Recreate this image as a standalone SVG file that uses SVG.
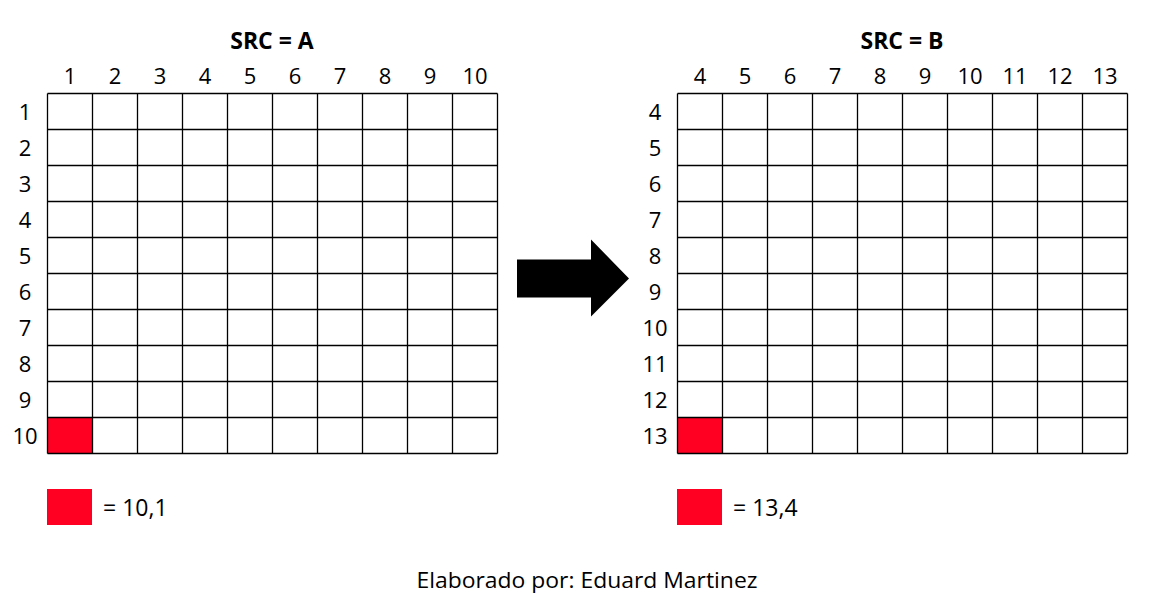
<svg xmlns="http://www.w3.org/2000/svg" width="1155" height="611" viewBox="0 0 1155 611">
<style>
text{font-family:"Open Sans","Liberation Sans",sans-serif;fill:#000}
.h{font-size:22px;text-anchor:middle}
.t{font-size:23px;font-weight:bold;text-anchor:middle}
.l{font-size:23px}
.f{font-size:21px}
.g line{stroke:#000;stroke-width:1.3}
.red{fill:#ff0022}
</style>
<rect width="1155" height="611" fill="#fff"/>
<g id="gridA">
<rect class="red" x="47.5" y="417.5" width="45" height="36"/>
<g class="g">
<line x1="47.5" y1="93.5" x2="497.5" y2="93.5"/><line x1="47.5" y1="129.5" x2="497.5" y2="129.5"/><line x1="47.5" y1="165.5" x2="497.5" y2="165.5"/><line x1="47.5" y1="201.5" x2="497.5" y2="201.5"/><line x1="47.5" y1="237.5" x2="497.5" y2="237.5"/><line x1="47.5" y1="273.5" x2="497.5" y2="273.5"/><line x1="47.5" y1="309.5" x2="497.5" y2="309.5"/><line x1="47.5" y1="345.5" x2="497.5" y2="345.5"/><line x1="47.5" y1="381.5" x2="497.5" y2="381.5"/><line x1="47.5" y1="417.5" x2="497.5" y2="417.5"/><line x1="47.5" y1="453.5" x2="497.5" y2="453.5"/>
<line x1="47.5" y1="93.5" x2="47.5" y2="453.5"/><line x1="92.5" y1="93.5" x2="92.5" y2="453.5"/><line x1="137.5" y1="93.5" x2="137.5" y2="453.5"/><line x1="182.5" y1="93.5" x2="182.5" y2="453.5"/><line x1="227.5" y1="93.5" x2="227.5" y2="453.5"/><line x1="272.5" y1="93.5" x2="272.5" y2="453.5"/><line x1="317.5" y1="93.5" x2="317.5" y2="453.5"/><line x1="362.5" y1="93.5" x2="362.5" y2="453.5"/><line x1="407.5" y1="93.5" x2="407.5" y2="453.5"/><line x1="452.5" y1="93.5" x2="452.5" y2="453.5"/><line x1="497.5" y1="93.5" x2="497.5" y2="453.5"/>
</g>
<text class="t" x="272" y="49">SRC = A</text>
<text class="h" y="84"><tspan x="70">1</tspan><tspan x="115">2</tspan><tspan x="160">3</tspan><tspan x="205">4</tspan><tspan x="250">5</tspan><tspan x="295">6</tspan><tspan x="340">7</tspan><tspan x="385">8</tspan><tspan x="430">9</tspan><tspan x="475">10</tspan></text>
<text class="h"><tspan x="25" y="119.5">1</tspan><tspan x="25" y="155.5">2</tspan><tspan x="25" y="191.5">3</tspan><tspan x="25" y="227.5">4</tspan><tspan x="25" y="263.5">5</tspan><tspan x="25" y="299.5">6</tspan><tspan x="25" y="335.5">7</tspan><tspan x="25" y="371.5">8</tspan><tspan x="25" y="407.5">9</tspan><tspan x="25" y="443.5">10</tspan></text>
</g>
<g id="gridB">
<rect class="red" x="677.5" y="417.5" width="45" height="36"/>
<g class="g">
<line x1="677.5" y1="93.5" x2="1127.5" y2="93.5"/><line x1="677.5" y1="129.5" x2="1127.5" y2="129.5"/><line x1="677.5" y1="165.5" x2="1127.5" y2="165.5"/><line x1="677.5" y1="201.5" x2="1127.5" y2="201.5"/><line x1="677.5" y1="237.5" x2="1127.5" y2="237.5"/><line x1="677.5" y1="273.5" x2="1127.5" y2="273.5"/><line x1="677.5" y1="309.5" x2="1127.5" y2="309.5"/><line x1="677.5" y1="345.5" x2="1127.5" y2="345.5"/><line x1="677.5" y1="381.5" x2="1127.5" y2="381.5"/><line x1="677.5" y1="417.5" x2="1127.5" y2="417.5"/><line x1="677.5" y1="453.5" x2="1127.5" y2="453.5"/>
<line x1="677.5" y1="93.5" x2="677.5" y2="453.5"/><line x1="722.5" y1="93.5" x2="722.5" y2="453.5"/><line x1="767.5" y1="93.5" x2="767.5" y2="453.5"/><line x1="812.5" y1="93.5" x2="812.5" y2="453.5"/><line x1="857.5" y1="93.5" x2="857.5" y2="453.5"/><line x1="902.5" y1="93.5" x2="902.5" y2="453.5"/><line x1="947.5" y1="93.5" x2="947.5" y2="453.5"/><line x1="992.5" y1="93.5" x2="992.5" y2="453.5"/><line x1="1037.5" y1="93.5" x2="1037.5" y2="453.5"/><line x1="1082.5" y1="93.5" x2="1082.5" y2="453.5"/><line x1="1127.5" y1="93.5" x2="1127.5" y2="453.5"/>
</g>
<text class="t" x="902" y="49">SRC = B</text>
<text class="h" y="84"><tspan x="700">4</tspan><tspan x="745">5</tspan><tspan x="790">6</tspan><tspan x="835">7</tspan><tspan x="880">8</tspan><tspan x="925">9</tspan><tspan x="970">10</tspan><tspan x="1015">11</tspan><tspan x="1060">12</tspan><tspan x="1105">13</tspan></text>
<text class="h"><tspan x="655" y="119.5">4</tspan><tspan x="655" y="155.5">5</tspan><tspan x="655" y="191.5">6</tspan><tspan x="655" y="227.5">7</tspan><tspan x="655" y="263.5">8</tspan><tspan x="655" y="299.5">9</tspan><tspan x="655" y="335.5">10</tspan><tspan x="655" y="371.5">11</tspan><tspan x="655" y="407.5">12</tspan><tspan x="655" y="443.5">13</tspan></text>
</g>
<g id="connectors">
<polygon points="517,259.5 591,259.5 591,239.5 629,278.5 591,316.5 591,297.5 517,297.5" fill="#000"/>
</g>
<g id="legendA">
<rect class="red" x="47" y="489" width="45" height="36"/>
<text class="l" x="103" y="516">= 10,1</text>
</g>
<g id="legendB">
<rect class="red" x="677" y="489" width="45" height="36"/>
<text class="l" x="733" y="516">= 13,4</text>
</g>
<g id="footer">
<text class="f" x="416.5" y="588" textLength="341" lengthAdjust="spacingAndGlyphs">Elaborado por: Eduard Martinez</text>
</g>
</svg>
